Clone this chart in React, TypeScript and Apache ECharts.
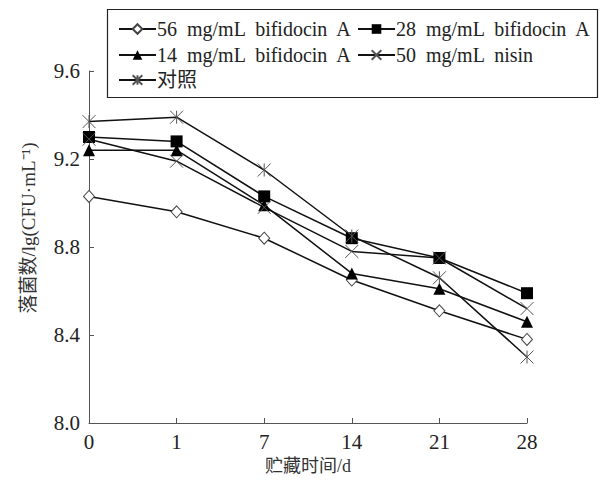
import React, { useEffect, useRef } from "react";
import * as echarts from "echarts";

const days = ["0", "1", "7", "14", "21", "28"];
const s56 = [9.03, 8.96, 8.84, 8.65, 8.51, 8.38];
const s28 = [9.3, 9.28, 9.03, 8.84, 8.75, 8.59];
const s14 = [9.24, 9.24, 8.99, 8.68, 8.61, 8.46];
const nisin = [9.29, 9.19, 8.98, 8.78, 8.75, 8.52];
const control = [9.37, 9.39, 9.15, 8.85, 8.66, 8.3];

const names = [
  "56  mg/mL  bifidocin  A",
  "28  mg/mL  bifidocin  A",
  "14  mg/mL  bifidocin  A",
  "50  mg/mL  nisin",
  "对照",
];

const FONT = '"Liberation Serif", "Times New Roman", "Noto Sans CJK SC", serif';

export default function App() {
  const ref = useRef<HTMLDivElement>(null);
  useEffect(() => {
    const chart = echarts.init(ref.current!, null, { renderer: "svg" });
    const lineStyle = { color: "#111", width: 1.5 };
    const mk = (name: string, data: number[], symbol: string, size: any, item: any) => ({
      name,
      type: "line",
      data,
      symbol,
      symbolSize: size,
      showSymbol: true,
      lineStyle,
      itemStyle: item,
      z: 2,
    });
    const xPath = "path://M0,0 L10,10 M10,0 L0,10";
    const starPath = "path://M0,0 L10,10 M10,0 L0,10 M5,0 L5,10";
    const series = [
      mk(names[0], s56, "diamond", [11, 12], { color: "#fff", borderColor: "#444", borderWidth: 1 }),
      mk(names[1], s28, "rect", 12, { color: "#000", borderColor: "#000", borderWidth: 0 }),
      mk(names[2], s14, "triangle", 12, { color: "#000", borderColor: "#000", borderWidth: 0 }),
      mk(names[3], nisin, xPath, 13, { color: "none", borderColor: "#555", borderWidth: 1 }),
      mk(names[4], control, starPath, 13, { color: "none", borderColor: "#555", borderWidth: 1 }),
    ];
    const legendPos = [
      [118, 29],
      [357, 29],
      [118, 55],
      [357, 55],
      [118, 80],
    ];
    const legends = names.map((n, i) => ({
      data: [n],
      left: legendPos[i][0],
      top: legendPos[i][1] - 10,
      padding: 0,
      itemWidth: 37,
      itemHeight: 12,
      itemGap: 0,
      selectedMode: false,
      textStyle: { fontFamily: FONT, fontSize: 20, color: "#222", padding: [0, 0, 0, -4] },
    }));
    chart.setOption({
      animation: false,
      backgroundColor: "#fff",
      grid: { left: 89, right: 74, top: 71, bottom: 58, containLabel: false },
      legend: legends,
      xAxis: {
        type: "category",
        data: days,
        boundaryGap: false,
        name: "贮藏时间/d",
        nameLocation: "middle",
        nameGap: 34,
        nameTextStyle: { fontFamily: FONT, fontSize: 18, color: "#333" },
        axisLine: { lineStyle: { color: "#555", width: 1 } },
        axisTick: { inside: true, length: 5, lineStyle: { color: "#555" } },
        axisLabel: { fontFamily: FONT, fontSize: 21, color: "#222", margin: 8 },
        splitLine: { show: false },
      },
      yAxis: {
        type: "value",
        min: 8.0,
        max: 9.6,
        interval: 0.4,
        axisLine: { show: true, lineStyle: { color: "#555", width: 1 } },
        axisTick: { show: true, inside: true, length: 5, lineStyle: { color: "#555" } },
        axisLabel: {
          fontFamily: FONT,
          fontSize: 21,
          color: "#222",
          margin: 9,
          formatter: (v: number) => v.toFixed(1),
        },
        splitLine: { show: false },
      },
      graphic: [
        {
          type: "rect",
          shape: { x: 107.5, y: 9.5, width: 490, height: 88 },
          style: { fill: "none", stroke: "#222", lineWidth: 1.2 },
          z: 10,
        },
        {
          type: "text",
          x: 28,
          y: 228,
          rotation: Math.PI / 2,
          style: {
            text: "落菌数/lg(CFU·mL⁻¹)",
            fontFamily: FONT,
            fontSize: 19,
            fill: "#333",
            align: "center",
            verticalAlign: "middle",
          },
        },
      ],
      series,
    });
    return () => chart.dispose();
  }, []);
  return (
    <div
      ref={ref}
      style={{ position: "fixed", left: 0, top: 0, width: 601, height: 481, background: "#fff" }}
    />
  );
}
